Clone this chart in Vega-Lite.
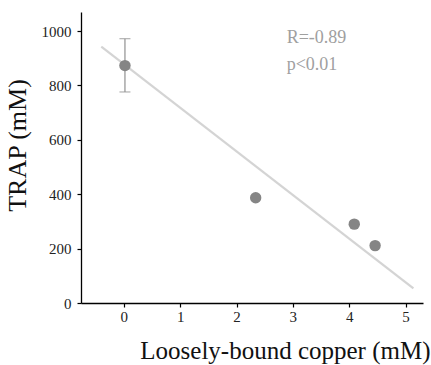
{
  "$schema": "https://vega.github.io/schema/vega-lite/v6.json",
  "autosize": "none",
  "width": 342,
  "height": 291,
  "padding": {"left": 81, "top": 12, "right": 8, "bottom": 62},
  "config": {
    "view": {"stroke": null},
    "font": "Liberation Serif",
    "axis": {
      "grid": false,
      "domainColor": "#000",
      "domainWidth": 1.3,
      "tickColor": "#000",
      "tickWidth": 1.2,
      "tickSize": 4,
      "labelFont": "Liberation Serif",
      "labelFontSize": 15,
      "labelColor": "#222",
      "titleFont": "Liberation Serif",
      "titleFontWeight": "normal",
      "titleColor": "#111"
    }
  },
  "datasets": {
    "pts": [
      {"copper": 0.02, "trap": 873, "lo": 776, "hi": 972},
      {"copper": 2.34, "trap": 387},
      {"copper": 4.09, "trap": 290},
      {"copper": 4.46, "trap": 211}
    ],
    "fit": [
      {"copper": -0.4, "trap": 943},
      {"copper": 5.14, "trap": 54}
    ],
    "ann": [
      {"copper": 2.89, "trap": 975, "label": "R=-0.89"},
      {"copper": 2.89, "trap": 876, "label": "p<0.01"}
    ]
  },
  "layer": [
    {
      "data": {"name": "fit"},
      "mark": {"type": "line", "color": "#d4d4d4", "strokeWidth": 2.2},
      "encoding": {
        "x": {"field": "copper", "type": "quantitative", "scale": {"domain": [-0.76, 5.31], "nice": false, "zero": false},
          "axis": {"values": [0, 1, 2, 3, 4, 5], "format": "d", "title": "Loosely-bound copper (mM)", "titleFontSize": 25, "titleAnchor": "end", "titleAlign": "right", "titleX": 349, "titlePadding": 14, "labelPadding": 2}},
        "y": {"field": "trap", "type": "quantitative", "scale": {"domain": [0, 1070], "nice": false},
          "axis": {"values": [0, 200, 400, 600, 800, 1000], "format": "d", "title": "TRAP (mM)", "titleFontSize": 26, "titleY": 133, "titlePadding": 11, "labelPadding": 6}}
      }
    },
    {
      "data": {"name": "pts"},
      "transform": [{"filter": "isValid(datum.lo)"}],
      "mark": {"type": "rule", "color": "#999", "strokeWidth": 1.3},
      "encoding": {
        "x": {"field": "copper", "type": "quantitative"},
        "y": {"field": "lo", "type": "quantitative"},
        "y2": {"field": "hi"}
      }
    },
    {
      "data": {"name": "pts"},
      "transform": [{"filter": "isValid(datum.lo)"}],
      "mark": {"type": "tick", "color": "#999", "orient": "horizontal", "size": 11, "thickness": 1.3},
      "encoding": {
        "x": {"field": "copper", "type": "quantitative"},
        "y": {"field": "lo", "type": "quantitative"}
      }
    },
    {
      "data": {"name": "pts"},
      "transform": [{"filter": "isValid(datum.hi)"}],
      "mark": {"type": "tick", "color": "#999", "orient": "horizontal", "size": 11, "thickness": 1.3},
      "encoding": {
        "x": {"field": "copper", "type": "quantitative"},
        "y": {"field": "hi", "type": "quantitative"}
      }
    },
    {
      "data": {"name": "pts"},
      "mark": {"type": "circle", "color": "#858585", "opacity": 1, "size": 130},
      "encoding": {
        "x": {"field": "copper", "type": "quantitative"},
        "y": {"field": "trap", "type": "quantitative"}
      }
    },
    {
      "data": {"name": "ann"},
      "mark": {"type": "text", "align": "left", "baseline": "middle", "color": "#a0a0a0", "fontSize": 18, "font": "Liberation Serif"},
      "encoding": {
        "x": {"field": "copper", "type": "quantitative"},
        "y": {"field": "trap", "type": "quantitative"},
        "text": {"field": "label"}
      }
    }
  ]
}
